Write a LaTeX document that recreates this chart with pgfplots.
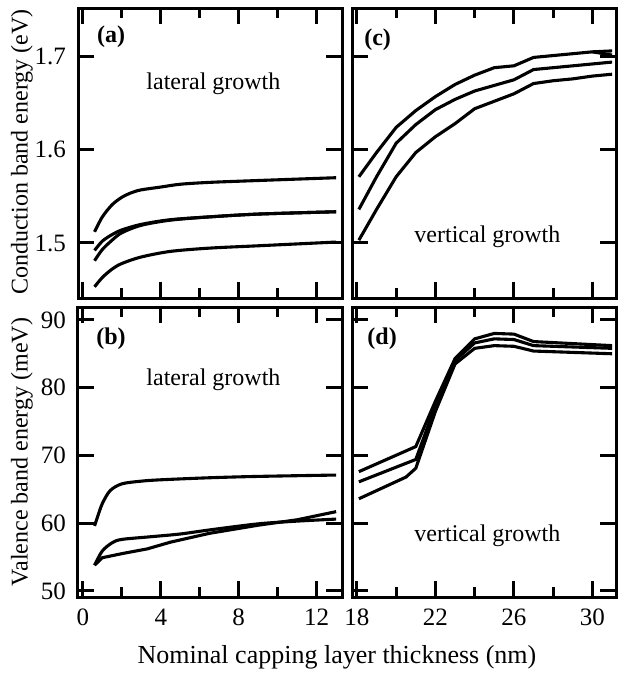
\documentclass[border=0pt]{standalone}
\usepackage{fontspec}
\setmainfont{Liberation Serif}
\usepackage{pgfplots}
\pgfplotsset{compat=1.18}
\begin{document}
\begin{tikzpicture}[font=\fontsize{12}{14}\selectfont]
\useasboundingbox (0,0) rectangle (309pt,-337.5pt);
\pgfplotsset{
  panel/.style={scale only axis, width=132pt, height=145pt, anchor=north west,
    axis line style={line width=1.5pt}, tick align=inside,
    major tick length=8pt, minor tick length=5pt,
    tick style={line width=1.5pt, black},
    /pgf/number format/assume math mode=true,
    tick label style={font=\fontsize{12.5}{14}\selectfont},
    xticklabel style={yshift=-2.5pt},
    yticklabel style={xshift=-2.5pt},
  },
  cv/.style={black, solid, line width=1.55pt, mark=none},
  lft/.style={xmin=-0.25, xmax=13.3, xtick={0,4,8,12}, minor xtick={2,6,10}},
  rgt/.style={xmin=17.75, xmax=31.2, xtick={18,22,26,30}, minor xtick={20,24,28}},
  cb/.style={ymin=1.441, ymax=1.752, ytick={1.5,1.6,1.7},
    yticklabel style={/pgf/number format/.cd, fixed, precision=1, fixed zerofill}},
  vb/.style={ymin=49.1, ymax=91.9, ytick={50,60,70,80,90}},
}
% (a)
\begin{axis}[panel, lft, cb, at={(39pt,-4pt)}, xticklabels={}]
\addplot[cv, smooth] coordinates {(0.6,1.512)(1.0,1.528)(1.5,1.541)(2.0,1.549)(2.5,1.554)(3,1.557)(4,1.560)(5,1.563)(6.5,1.565)(9,1.567)(13,1.570)};
\addplot[cv, smooth] coordinates {(0.6,1.492)(1.0,1.502)(1.5,1.509)(2,1.514)(3,1.520)(4.5,1.525)(6.5,1.528)(9,1.531)(13,1.5335)};
\addplot[cv, smooth] coordinates {(0.6,1.481)(1.0,1.493)(1.5,1.503)(2,1.511)(3,1.519)(4.5,1.5245)(6.5,1.528)(9,1.531)(13,1.5335)};
\addplot[cv, smooth] coordinates {(0.6,1.453)(1.0,1.463)(1.5,1.472)(2,1.478)(3,1.485)(4.5,1.491)(6.5,1.4945)(9,1.497)(13,1.501)};
\node at (rel axis cs:0.125,0.9) {\textbf{(a)}};
\node[anchor=base] at (rel axis cs:0.513,0.72) {lateral growth};
\end{axis}
% (c)
\begin{axis}[panel, rgt, cb, at={(176pt,-4pt)}, xticklabels={}, yticklabels={}]
\addplot[cv] coordinates {(18.1,1.571)(19,1.597)(20,1.624)(21,1.642)(22,1.657)(23,1.670)(24,1.680)(25,1.688)(26,1.690)(27,1.699)(28,1.701)(29,1.703)(30,1.705)(31,1.706)};
\addplot[cv] coordinates {(30,1.705)(31,1.7015)};
\addplot[cv] coordinates {(18.1,1.536)(19,1.571)(20,1.607)(21,1.627)(22,1.643)(23,1.654)(24,1.663)(25,1.669)(26,1.675)(27,1.686)(28,1.688)(29,1.690)(30,1.692)(31,1.694)};
\addplot[cv] coordinates {(18.1,1.503)(19,1.536)(20,1.571)(21,1.597)(22,1.614)(23,1.628)(24,1.644)(25,1.652)(26,1.660)(27,1.671)(28,1.674)(29,1.676)(30,1.679)(31,1.681)};
\node at (rel axis cs:0.097,0.89) {\textbf{(c)}};
\node[anchor=base] at (rel axis cs:0.513,0.193) {vertical growth};
\end{axis}
% (b)
\begin{axis}[panel, lft, vb, at={(39pt,-153.5pt)}]
\addplot[cv, smooth] coordinates {(0.6,59.6)(0.75,60.9)(1.0,62.9)(1.4,64.8)(2.0,65.8)(3,66.2)(4,66.4)(6.5,66.7)(9,66.9)(13,67.1)};
\addplot[cv, smooth] coordinates {(0.6,53.8)(1.0,55.9)(1.5,57.1)(2,57.6)(3.5,58.0)(5,58.4)(6.5,59.0)(9,59.9)(11,60.3)(13,60.6)};
\addplot[cv] coordinates {(0.6,53.8)(1.0,54.9)(2,55.5)(3.3,56.2)(4.5,57.2)(6.5,58.5)(9,59.7)(11,60.5)(13,61.7)};
\node at (rel axis cs:0.125,0.89) {\textbf{(b)}};
\node[anchor=base] at (rel axis cs:0.513,0.73) {lateral growth};
\end{axis}
% (d)
\begin{axis}[panel, rgt, vb, at={(176pt,-153.5pt)}, yticklabels={}]
\addplot[cv] coordinates {(18.1,67.6)(21,71.3)(22,78.0)(23,84.3)(24,87.2)(25,88.0)(26,87.9)(27,86.8)(31,86.2)};
\addplot[cv] coordinates {(18.1,66.1)(21,69.4)(22,77.3)(23,84.0)(24,86.6)(25,87.2)(26,87.1)(27,86.2)(31,85.8)};
\addplot[cv] coordinates {(18.1,63.6)(20.5,66.8)(21,68.1)(22,76.5)(23,83.5)(24,85.8)(25,86.2)(26,86.1)(27,85.4)(31,85.0)};
\node at (rel axis cs:0.114,0.89) {\textbf{(d)}};
\node[anchor=base] at (rel axis cs:0.513,0.19) {vertical growth};
\end{axis}
\node[rotate=90] at (11pt,-76pt) {Conduction band energy (eV)};
\node[rotate=90] at (11pt,-226pt) {Valence band energy (meV)};
\node[anchor=base, font=\fontsize{13}{15}\selectfont] at (168.5pt,-331.5pt) {Nominal capping layer thickness (nm)};
\end{tikzpicture}
\end{document}
